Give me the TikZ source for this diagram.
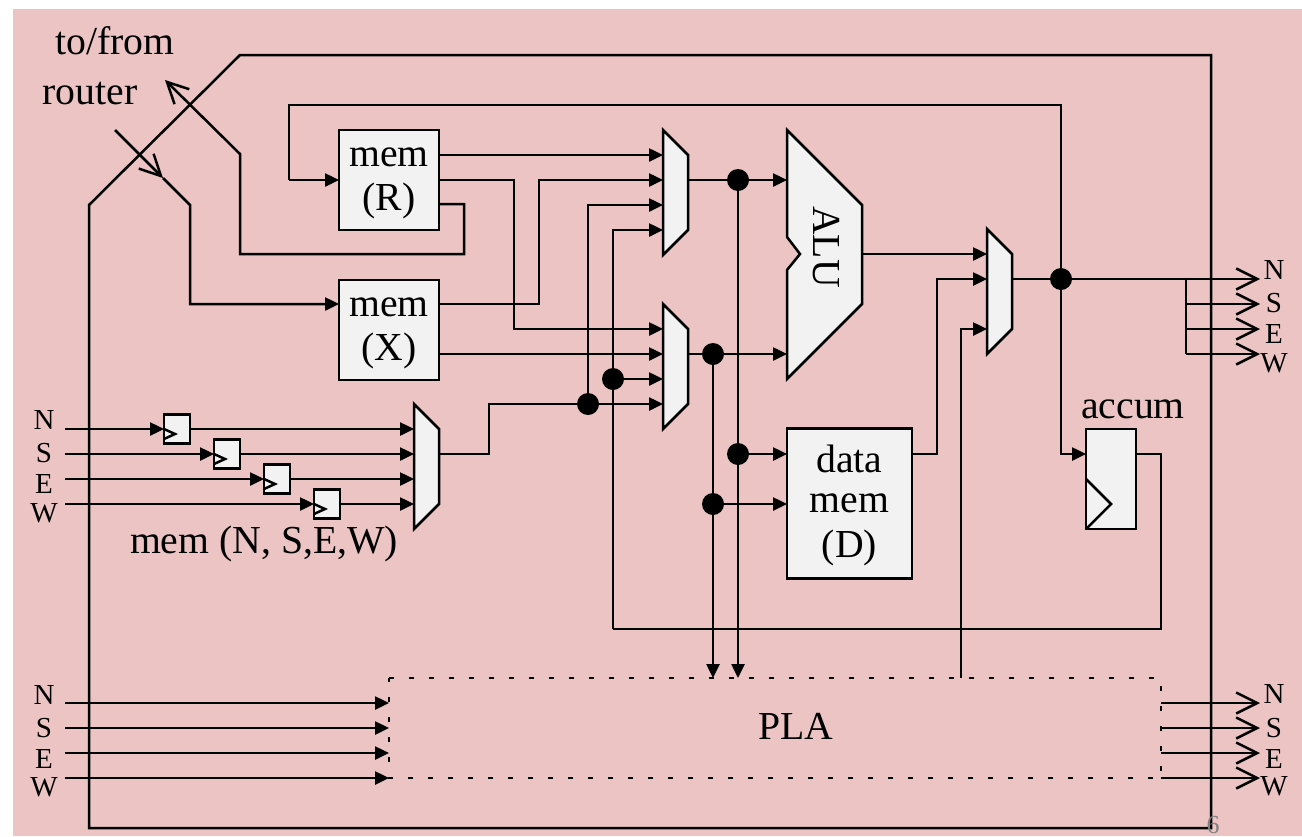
\documentclass[tikz,border=0pt]{standalone}
\usepackage{fontspec}
\setmainfont{Liberation Serif}
\usepackage{xcolor}
\usepackage{tikz}
\usetikzlibrary{arrows.meta, positioning}
\definecolor{slidepink}{RGB}{236,196,196}
\definecolor{boxgray}{RGB}{242,242,242}

\begin{document}
\begin{tikzpicture}[x=1pt, y=-1pt, line width=2.5pt, line join=miter,
    >={Triangle[length=14pt, width=13pt]},
    open/.style={-{Straight Barb[length=21pt, width=21pt, line width=2.5pt]}},
    box/.style={draw, fill=boxgray, inner sep=0pt, outer sep=0pt, align=center, font=\fontsize{39.7}{43.5}\selectfont},
    regbox/.style={box, minimum width=26pt, minimum height=29pt},
    unit/.style={draw, fill=boxgray},
    dot/.style={circle, fill=black, inner sep=0pt, outer sep=0pt, minimum size=22pt},
    txt/.style={inner sep=0pt, anchor=base, font=\fontsize{39.7}{45}\selectfont},
    dirlabel/.style={inner sep=0pt, anchor=base, font=\fontsize{29}{29}\selectfont}]
      % page
      \fill[white] (0,0) rectangle (1302,836);
      \fill[slidepink] (13,9) rectangle (1302,836);
      \useasboundingbox (0,0) rectangle (1302,836);

      % boxes
      \node[box, minimum width=100pt, minimum height=100pt] (memR) at (389,180) {\rule{0pt}{36.5pt}mem\\(R)\rule[-20pt]{0pt}{0pt}};
      \node[box, minimum width=100pt, minimum height=100pt, below=50pt of memR] (memX) {\rule{0pt}{36.5pt}mem\\(X)\rule[-20pt]{0pt}{0pt}};
      \node[box, minimum width=125pt, minimum height=150pt] (datamem) at (849.5,503.5) {\rule{0pt}{44pt}data\\[-3.5pt]mem\\[1.5pt](D)\rule[-21pt]{0pt}{0pt}};
      \node[box, minimum width=50pt, minimum height=100pt] (accum) at (1111,479) {};
      \node[txt] (accumlabel) at (1133,418) {accum};
      \node[minimum width=772pt, minimum height=100pt, inner sep=0pt, outer sep=0pt] (PLA) at (775,728) {};
      \node[txt] (PLAlabel) at (796,739) {PLA};
      \draw[dash pattern=on 5pt off 15pt] (PLA.north west) -- (PLA.north east) -- (PLA.south east) -- (PLA.south west) -- cycle;
      \draw (accum.west |- 0,479) -- (1111,504) -- (accum.south west);

      % muxes and ALU
      \draw[unit] (663,130) -- (688,155) -- (688,230) -- (663,255) -- cycle;
      \draw[unit] (663,304) -- (688,329) -- (688,404) -- (663,429) -- cycle;
      \draw[unit] (414,404) -- (439,429) -- (439,504) -- (414,529) -- cycle;
      \draw[unit] (987,229) -- (1012,254) -- (1012,329) -- (987,354) -- cycle;
      \draw[unit] (787,130) -- (862,205) -- (862,304) -- (787,379) -- (787,270) -- (800,254) -- (787,237) -- cycle;
      \node[txt, rotate=-90] (ALU) at (813,247) {ALU};

      % ports
      \foreach \i/\y in {1/155,2/180,3/205,4/230} \coordinate (muxA\i) at (663,\y);
      \foreach \i/\y in {1/329,2/354,3/379,4/404} \coordinate (muxB\i) at (663,\y);
      \coordinate (muxAout) at (688,180);
      \coordinate (muxBout) at (688,354);
      \coordinate (muxDout) at (439,454);
      \coordinate (muxC1) at (987,254);
      \coordinate (muxC2) at (987,279);
      \coordinate (muxC3) at (987,329);
      \coordinate (muxCout) at (1012,279);
      \coordinate (aluA) at (787,180);
      \coordinate (aluB) at (787,354);
      \coordinate (aluout) at (862,254);

      % junctions
      \node[dot] (jA) at (738,180) {};
      \node[dot] (jB) at (713,354) {};
      \node[dot] (jC) at (613,379) {};
      \node[dot] (jD) at (588,404) {};
      \node[dot] (jE) at (738,454) {};
      \node[dot] (jF) at (713,504) {};
      \node[dot] (jG) at (1061,279) {};

      % ring
      \draw (89,205) -- (89,828) -- (1211,828) -- (1211,55) -- (240,55) -- cycle;

      % to/from router
      \node[txt] (tofrom) at (115,54) {to/from};
      \node[txt] (router) at (90,104) {router};
      \coordinate (rout) at (165,80);
      \coordinate (rin) at (115,130);
      \coordinate (rmid) at (163,178);
      \draw[open] (439,204) -- (464,204) -- (464,254) -- (240,254) -- (240,154) -- (rout);
      \draw[open] (rin) -- (rmid);
      \draw[->] (rmid) -- (190,205) -- (190,304) -- (339,304);

      % mem outputs
      \draw[->] (289,180) -- (memR.west);
      \draw (jG) -- (1061,105) -- (289,105) -- (289,180);
      \draw[->] (439,155) -- (muxA1);
      \draw[->] (439,180) -- (514,180) -- (514,329) -- (muxB1);
      \draw[->] (439,304) -- (539,304) -- (539,180) -- (muxA2);
      \draw[->] (439,354) -- (muxB2);

      % mux outputs
      \draw[->] (muxAout) -- (aluA);
      \draw[->] (muxBout) -- (aluB);
      \draw[->] (aluout) -- (muxC1);
      \draw[->] (jA) -- (738,678);
      \draw[->] (jB) -- (713,678);
      \draw[->] (jE) -- (787,454);
      \draw[->] (jF) -- (787,504);
      \draw[->] (912,454) -- (937,454) -- (937,279) -- (muxC2);
      \draw[->] (961,678) -- (961,329) -- (muxC3);

      % mem (N, S, E, W)
      \foreach \d/\x/\y/\ly in {N/177/429/429,S/227/454/462,E/277/479/493,W/327/504/522} {
        \node[regbox] (reg\d) at (\x,\y) {};
        \node[dirlabel] (left\d) at (44,\ly) {\d};
        \coordinate (in\d) at (65,\y);
        \coordinate (muxD\d) at (414,\y);
        \draw[->] (in\d) -- (reg\d);
        \draw[->] (reg\d) -- (muxD\d);
        \draw (reg\d.west) -- ++(11,5) -- ++(-11,5);
      }
      \node[txt] (memnsew) at (264,553) {mem (N, S,E,W)};
      \draw[->] (muxDout) -- (489,454) -- (489,404) -- (muxB4);
      \draw[->] (jD) -- (588,205) -- (muxA3);
      \draw[->] (jC) -- (muxB3);
      \draw[->] (613,629) -- (613,230) -- (muxA4);
      \draw (1136,454) -- (1161,454) -- (1161,629) -- (613,629);

      % result
      \coordinate (fanout) at (1186,279);
      \draw (muxCout) -- (jG) -- (fanout);
      \draw[->] (jG) -- (1061,454) -- (accum.west |- 0,454);
      \draw (fanout) -- (1186,354);
      \foreach \d/\y/\ly in {N/279/279,S/304/312,E/329/343,W/354/372} {
        \node[dirlabel] (right\d) at (1274,\ly) {\d};
        \draw[open] (1186,\y) -- (1260,\y);
      }

      % PLA connections
      \foreach \d/\y/\la/\lb in {N/703/704/703,S/728/737/737,E/753/768/768,W/778/796/795} {
        \node[dirlabel] (plain\d) at (44,\la) {\d};
        \node[dirlabel] (plaout\d) at (1274,\lb) {\d};
        \draw[->] (65,\y) -- (389,\y);
        \draw[open] (1161,\y) -- (1260,\y);
      }

      % page number
      \node[inner sep=0pt, text=gray, font=\fontsize{26}{26}\selectfont] (pagenum) at (1213,825) {6};
    \end{tikzpicture}
\end{document}
